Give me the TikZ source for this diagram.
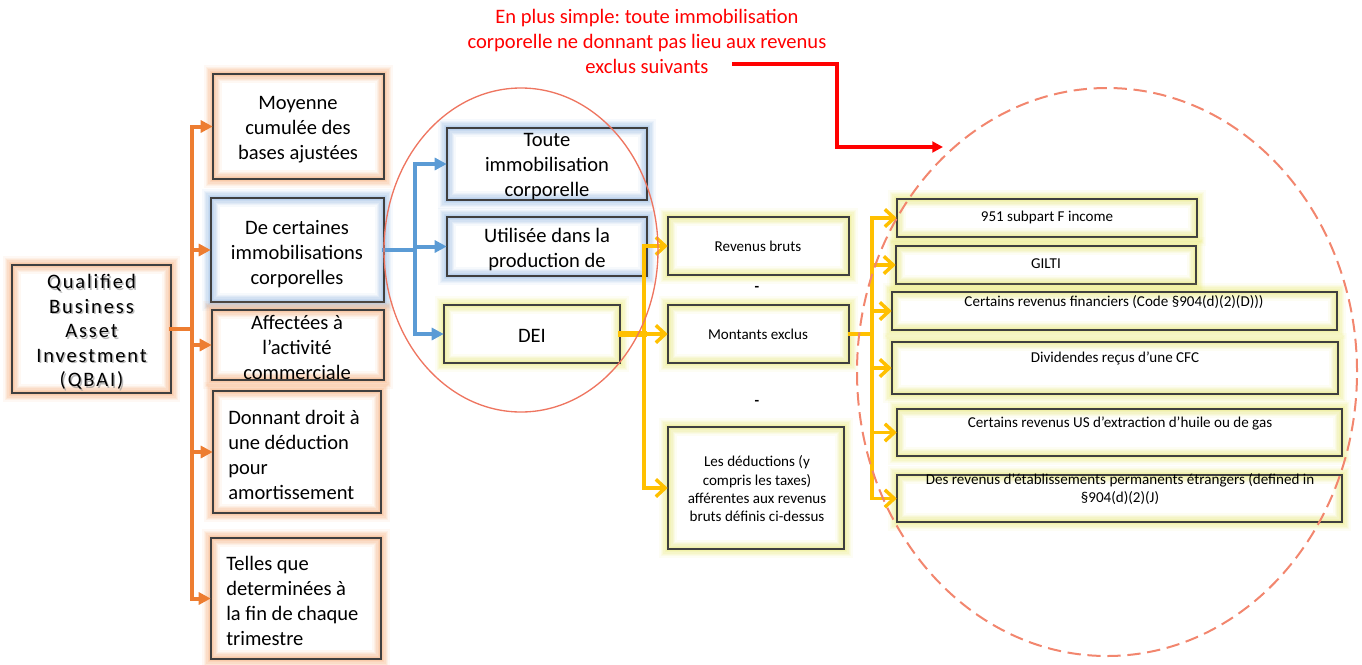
\documentclass[tikz,border=0pt]{standalone}
\usepackage{fontspec}
\setmainfont{Carlito}
\newfontfamily\spacedfont[LetterSpace=9]{Carlito}
\usetikzlibrary{arrows.meta}
\frenchspacing

\newcommand\bigsize{\fontsize{15.4}{18.75}\selectfont}
\newcommand\smallsize{\fontsize{11.3}{13.75}\selectfont}
\newcommand\qbaisize{\fontsize{15.4}{18.4}\selectfont}

\definecolor{edge}{HTML}{3F3F3F}
\definecolor{orangeC}{HTML}{ED7D31}
\definecolor{orangeG}{HTML}{F4A66E}
\definecolor{blueC}{HTML}{5B9BD5}
\definecolor{blueG}{HTML}{8DB4E0}
\definecolor{goldC}{HTML}{FFC000}
\definecolor{yellowG}{HTML}{E8E870}
\definecolor{ringC}{HTML}{EE7560}
\definecolor{dashC}{HTML}{F2866E}
\definecolor{noteC}{HTML}{FF0000}

% box with a soft coloured halo around a dark frame
\newcommand\gbox[7]{%
  \node[boxbase, glowing=#6, minimum width={(#4-#2)*0.75pt},
        minimum height={(#5-#3)*0.75pt}] (#1) at ({(#2+#4)/2},{(#3+#5)/2}) {#7};}

\tikzset{
  boxbase/.style={rectangle, fill=white, draw=none, inner sep=0pt},
  glowing/.style={
    postaction={draw=#1, line width=13pt, draw opacity=0.08},
    postaction={draw=#1, line width=11pt, draw opacity=0.1},
    postaction={draw=#1, line width=9pt, draw opacity=0.12},
    postaction={draw=#1, line width=7pt, draw opacity=0.14},
    postaction={draw=#1, line width=5pt, draw opacity=0.16},
    postaction={draw=#1, line width=3pt, draw opacity=0.2},
    postaction={draw=edge, line width=1.5pt}},
  txt/.style={font=\bigsize, align=center, inner sep=0pt},
  stxt/.style={font=\smallsize, align=center, inner sep=0pt},
  oline/.style={draw=orangeC, line width=3pt, line cap=rect},
  oarrow/.style={-{Triangle[length=9pt,width=9pt]}},
  bline/.style={draw=blueC, line width=3pt, line cap=rect},
  barrow/.style={-{Triangle[length=9pt,width=9pt]}},
  yline/.style={draw=goldC, line width=2.6pt, line cap=rect},
  yarrow/.style={-{Straight Barb[length=7pt,width=13pt]}},
  noteline/.style={draw=noteC, line width=3pt, line join=miter,
    -{Triangle[length=8pt,width=8pt]}},
}

\begin{document}
\begin{tikzpicture}[x=0.75pt, y=-0.75pt]
\useasboundingbox (0,0) rectangle (1362,664);

% ---------- boxes ----------
\gbox{qbai}{12}{265}{171}{393}{orangeG}{}
\gbox{moy}{213}{74}{384}{179}{orangeG}{}
\gbox{cert}{211}{198}{384}{302}{blueG}{}
\gbox{aff}{212}{310}{384}{380}{orangeG}{}
\gbox{don}{213}{391}{381}{513}{orangeG}{}
\gbox{tel}{211}{538}{381}{659}{orangeG}{}

\gbox{toute}{447}{128}{647}{200}{blueG}{}
\gbox{util}{447}{217}{647}{276}{blueG}{}
\gbox{dei}{444}{305}{620}{363}{yellowG}{}

\gbox{rev}{668}{217}{849}{275}{yellowG}{}
\gbox{mont}{668}{305}{849}{363}{yellowG}{}
\gbox{ded}{668}{427}{844}{549}{yellowG}{}

\gbox{fsub}{897}{199}{1197}{237}{yellowG}{}
\gbox{gilti}{896}{246}{1196}{284}{yellowG}{}
\gbox{cfin}{892}{292}{1337}{330}{yellowG}{}
\gbox{divd}{892}{342}{1338}{394}{yellowG}{}
\gbox{usoil}{897}{409}{1342}{456}{yellowG}{}
\gbox{perm}{897}{475}{1342}{522}{yellowG}{}

% ---------- texts ----------
\node[txt, font=\qbaisize\spacedfont, text=black!45, opacity=0.6] (qbaish) at (93,333.5)
  {Qualified\\Business\\Asset\\Investment\\(QBAI)};
\node[txt, font=\qbaisize\spacedfont] (qbaitx) at (91.5,332)
  {Qualified\\Business\\Asset\\Investment\\(QBAI)};

\node[txt] (moytx) at (298,130) {Moyenne\\cumulée des\\bases ajustées};
\node[txt] (certtx) at (297,254) {De certaines\\immobilisations\\corporelles};
\node[txt] (afftx) at (297,347) {Affectées à\\l’activité\\commerciale};
\node[txt, align=left, anchor=west] (dontx) at (228,455)
  {Donnant droit à\\une déduction\\pour\\amortissement};
\node[txt, align=left, anchor=west] (teltx) at (226,601)
  {Telles que\\determinées à\\la fin de chaque\\trimestre};

\node[txt] (toutetx) at (547,167) {Toute\\immobilisation\\corporelle};
\node[txt] (utiltx) at (547,249.5) {Utilisée dans la\\production de};
\node[txt] (deitx) at (532,336) {DEI};

\node[stxt] (revtx) at (758,246) {Revenus bruts};
\node[stxt] (monttx) at (758,334) {Montants exclus};
\node[stxt] (dedtx) at (757,489)
  {Les déductions (y\\compris les taxes)\\afférentes aux revenus\\bruts définis ci-dessus};
\node[stxt, font=\smallsize\bfseries] (minusa) at (757,289) {-};
\node[stxt, font=\smallsize\bfseries] (minusb) at (757,403) {-};

\node[stxt] (fsubtx) at (1047,217) {951 subpart F income};
\node[stxt] (giltitx) at (1046,264) {GILTI};
\node[stxt] (cfintx) at (1114,302) {Certains revenus financiers (Code §904(d)(2)(D)))};
\node[stxt] (divdtx) at (1115,358) {Dividendes reçus d’une CFC};
\node[stxt] (usoiltx) at (1120,423) {Certains revenus US d’extraction d’huile ou de gas};
\node[stxt] (permtx) at (1120,489)
  {Des revenus d’établissements permanents étrangers (defined in\\§904(d)(2)(J)};

\node[txt, text=noteC] (note) at (647,41)
  {En plus simple: toute immobilisation\\corporelle ne donnant pas lieu aux revenus\\exclus suivants};

% ---------- connectors ----------
\coordinate (ot) at (192,0);
\coordinate (bt) at (415,0);
\coordinate (yt) at (644,0);
\coordinate (rt) at (872,0);

% orange tree
\draw[oline] (qbai.east) -- (qbai.east -| ot);
\draw[oline] (ot |- moy.west) -- (ot |- tel.west);
\foreach \n in {moy,cert,aff,don,tel}
  \draw[oline,oarrow] (ot |- \n.west) -- (\n.west);

% blue tree
\draw[bline] (cert.east) -- (cert.east -| bt);
\draw[bline] (bt |- toute.west) -- (bt |- dei.west);
\foreach \n in {toute,util,dei}
  \draw[bline,barrow] (bt |- \n.west) -- (\n.west);

% yellow tree from DEI
\draw[yline, line width=4pt] (dei.east) -- (dei.east -| yt);
\draw[yline] (yt |- rev.west) -- (yt |- ded.west);
\foreach \n in {rev,mont,ded}
  \draw[yline,yarrow] (yt |- \n.west) -- (\n.west);

% yellow tree from the excluded amounts
\draw[yline] (mont.east) -- (mont.east -| rt);
\draw[yline] (rt |- fsub.west) -- (rt |- perm.west);
\foreach \n in {fsub,gilti,cfin,divd,usoil,perm}
  \draw[yline,yarrow] (rt |- \n.west) -- (\n.west);

% ---------- rings ----------
\node[draw=none, inner sep=0pt] (ringa) at (521,250) {};
\draw[ringC, line width=1pt] (ringa) ellipse [x radius=102.75pt, y radius=121.5pt];
\node[draw=none, inner sep=0pt] (ringb) at (1107,372) {};
\draw[dashC, line width=1.5pt, dash pattern=on 10pt off 5pt]
  (ringb) ellipse [x radius=187.5pt, y radius=213pt];

% ---------- note arrow ----------
\coordinate (rs) at (732,64);
\coordinate (rk) at (837,147);
\coordinate (re) at (943,147);
\draw[noteline] (rs) -| (rk) -- (re);

\end{tikzpicture}
\end{document}
